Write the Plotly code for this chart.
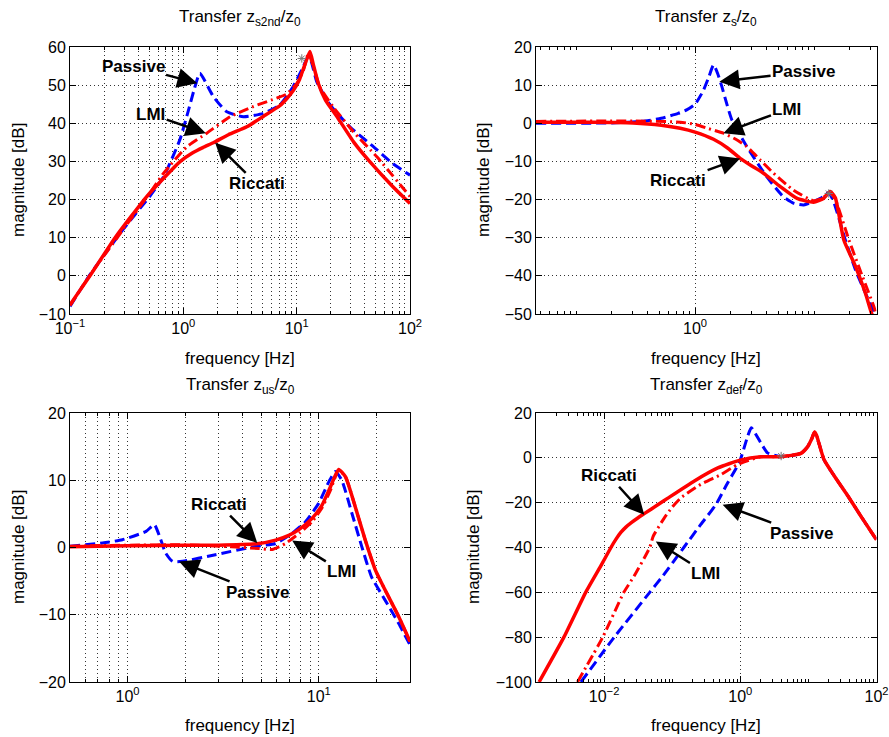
import numpy as np
import plotly.graph_objects as go

# ---------------- data (frequency in Hz, magnitude in dB) ----------------
# Transfer z_s2nd / z_0
s2nd_passive_f = [0.1, 0.15, 0.3, 0.51, 0.67, 0.93, 1.1, 1.25, 1.4, 1.84, 2.42, 3.39, 5.08, 7.1, 9.3, 11.5, 12.6, 13.5, 15, 19.5, 29.6, 47, 70, 100]
s2nd_passive_db = [-8, 0.3, 12.5, 21, 26, 35.6, 43, 49, 53.1, 47, 43, 41.7, 42.6, 44.8, 49.6, 55, 57.5, 56, 51, 45, 39, 34, 29.5, 26.4]
s2nd_lmi_f = [0.1, 0.15, 0.3, 0.5, 0.67, 1.07, 1.61, 2.58, 4.15, 6.67, 8.2, 10, 11.5, 12.7, 14, 16, 21, 31.6, 51, 100]
s2nd_lmi_db = [-7.8, 0.2, 12.5, 21.5, 26.9, 33.8, 37.4, 41.7, 44.4, 46.6, 47.7, 50.4, 54, 58.3, 55, 49.5, 44.3, 37.8, 31.2, 20.8]
s2nd_riccati_f = [0.1, 0.15, 0.25, 0.475, 0.7, 0.93, 1.2, 1.5, 1.84, 2.5, 3.63, 5.08, 7.1, 8.2, 9.3, 10.6, 12, 13.1, 14, 15.5, 18, 22.4, 32, 44, 70, 100]
s2nd_riccati_db = [-7.6, 0, 10, 20.8, 26.2, 29.9, 32.2, 33.7, 34.9, 37, 39.1, 41.8, 44.6, 46.5, 48.5, 51.5, 56, 58.8, 55.5, 50.5, 46, 42, 35, 30, 23.5, 19]

# Transfer z_s / z_0
s_passive_f = [0.046, 0.2, 0.38, 0.52, 0.72, 0.85, 1.0, 1.17, 1.3, 1.43, 1.55, 1.68, 1.85, 2.04, 2.72, 4.0, 5.5, 6.8, 8.2, 11.3, 13.3, 14.6, 18.3, 22.3, 27, 31.8, 34]
s_passive_db = [0, 0.1, 0.6, 1.3, 2.6, 3.5, 5, 8.5, 12, 15.3, 13, 9.6, 5, 0.86, -6.1, -14, -19.2, -21, -21.4, -19.7, -18.2, -20.5, -30.5, -38.4, -44.5, -49.3, -51]
s_lmi_f = [0.046, 0.3, 0.75, 1.0, 1.3, 1.73, 2.2, 2.72, 3.5, 4.57, 6.7, 9.9, 12, 13.5, 15.1, 19.6, 25.4, 31.8, 34]
s_lmi_db = [0.5, 0.6, 0.3, -0.3, -1.4, -2.6, -4.2, -6.1, -9.5, -13.1, -17.5, -20.3, -19.5, -18, -20, -30.5, -40, -48, -51]
s_riccati_f = [0.046, 0.1, 0.2, 0.3, 0.52, 0.75, 1.0, 1.43, 1.9, 2.39, 3.0, 3.76, 5.2, 7.2, 9.9, 12, 13.7, 15.1, 17.8, 22.3, 27, 30.6, 34]
s_riccati_db = [0.3, 0.3, 0.2, 0.1, -0.5, -1.3, -2.3, -4.2, -6.6, -9.2, -11.2, -13.1, -16.6, -19.7, -20.7, -19.7, -17.9, -19.5, -30.6, -37.5, -44.5, -50, -53]

# Transfer z_us / z_0
us_passive_f = [0.5, 0.74, 0.94, 1.25, 1.38, 1.49, 1.58, 1.72, 1.94, 2.88, 4.67, 5.95, 7.25, 8.5, 10, 11.3, 12.2, 13.2, 14.9, 16.8, 18.9, 22.3, 26.2, 30]
us_passive_db = [0.2, 0.67, 1.16, 2.4, 3.4, 1.2, -0.8, -2.06, -2.06, -1.07, 0.16, 0.6, 2.1, 3.8, 6.6, 9.8, 11.3, 10, 5.1, 0.1, -4.4, -7.9, -11.3, -14.5]
us_lmi_f = [0.5, 1, 2, 3.5, 4.86, 5.7, 6.7, 7.9, 9.2, 10.4, 11.5, 12.7, 13.8, 15.5, 17.5, 19.8, 22.3, 26.2, 30]
us_lmi_db = [0.2, 0.35, 0.4, 0.1, -0.15, -0.3, 0.6, 2.1, 3.8, 5.9, 8.5, 11.5, 10.5, 6.1, 1.1, -3.4, -6.4, -10.3, -14.0]
us_riccati_f = [0.5, 1, 2, 3, 4.86, 5.95, 6.97, 7.9, 9.2, 10.4, 11.5, 12.7, 13.8, 15.5, 17.5, 19.8, 22.3, 26.2, 30]
us_riccati_db = [0.1, 0.25, 0.35, 0.35, 0.6, 1.1, 1.8, 2.7, 4.3, 6.3, 9.0, 11.6, 10.5, 6.1, 1.1, -3.4, -6.4, -10.3, -14.0]

# Transfer z_def / z_0
def_passive_f = [0.00457, 0.0141, 0.0468, 0.0723, 0.148, 0.263, 0.44, 0.653, 0.966, 1.285, 1.45, 2.0, 2.51, 3.98, 7.76, 9.77, 11.2, 12.1, 13.0, 14.5, 17.0, 24.0, 38.0, 58.9, 100]
def_passive_db = [-100, -80, -60, -52.8, -40, -29.7, -20.8, -11.1, -2.2, 9.7, 13.4, 6.7, 2.2, 0.6, 2.0, 5, 8.5, 11, 10, 5.8, -0.9, -8.1, -17, -26, -36.6]
def_lmi_f = [0.00407, 0.00955, 0.0195, 0.0275, 0.0468, 0.0525, 0.0759, 0.1, 0.135, 0.263, 0.525, 0.912, 2.0, 3.98, 7.76, 9.77, 11.2, 12.3, 13.2, 14.5, 17.0, 24.0, 38.0, 58.9, 100]
def_lmi_db = [-100, -80, -60, -52.8, -40, -35, -27, -22, -17.8, -11.8, -7.4, -3, 0.5, 0.5, 2.0, 5, 8.5, 11.5, 10, 5.8, -0.9, -8.1, -17, -26, -36.6]
def_riccati_f = [0.00111, 0.00257, 0.00537, 0.00891, 0.0126, 0.0148, 0.0176, 0.0209, 0.0251, 0.0316, 0.0389, 0.0631, 0.0851, 0.209, 0.468, 1.0, 2.0, 3.98, 7.76, 9.77, 11.2, 12.3, 13.2, 14.5, 17.0, 24.0, 38.0, 58.9, 100]
def_riccati_db = [-100, -80, -60, -48.3, -40, -36.5, -33.3, -30.9, -28.9, -26.7, -24.9, -20.7, -18.1, -10.4, -4.5, -1, 0.5, 0.5, 2.0, 5, 8.5, 11.5, 10, 5.8, -0.9, -8.1, -17, -26, -36.6]

# grey asterisk markers (f, dB)
star_s2nd = ([11.1], [57])
star_s = ([13.3], [-18.4])
star_def = ([3.98], [0.8])

# tick labels
s2nd_xticks = [0.1, 1, 10, 100]
s2nd_xticktext = ["10<sup>−1</sup>", "10<sup>0</sup>", "10<sup>1</sup>", "10<sup>2</sup>"]
s_xticks = [1]
s_xticktext = ["10<sup>0</sup>"]
us_xticks = [1, 10]
us_xticktext = ["10<sup>0</sup>", "10<sup>1</sup>"]
def_xticks = [0.01, 1, 100]
def_xticktext = ["10<sup>−2</sup>", "10<sup>0</sup>", "10<sup>2</sup>"]

titles = ["Transfer z<sub>s2nd</sub>/z<sub>0</sub>", "Transfer z<sub>s</sub>/z<sub>0</sub>",
          "Transfer z<sub>us</sub>/z<sub>0</sub>", "Transfer z<sub>def</sub>/z<sub>0</sub>"]

# arrow annotations: (subplot, text, tip_f, tip_db, text_f, text_db)
labels = [
    (1, "Passive", 1.33, 50.5, 0.36, 55.0),
    (1, "LMI", 1.58, 37.4, 0.515, 42.4),
    (1, "Riccati", 1.91, 34.9, 4.45, 24.1),
    (2, "Passive", 1.6, 10.9, 8.17, 13.5),
    (2, "LMI", 1.73, -2.6, 5.92, 3.67),
    (2, "Riccati", 2.39, -9.2, 0.72, -15.05),
    (3, "Riccati", 4.77, 0.67, 3.01, 6.36),
    (3, "Passive", 1.86, -2.07, 4.77, -6.68),
    (3, "LMI", 7.26, 1.05, 13.2, -3.55),
    (4, "Riccati", 0.0389, -25.4, 0.01186, -8.0),
    (4, "Passive", 0.55, -20.9, 7.8, -33.8),
    (4, "LMI", 0.0575, -37.3, 0.313, -51.4),
]

# ---------------- figure ----------------
W, H = 889, 737
FONT = "Liberation Sans, Arial, Helvetica, sans-serif"
BLUE = "#0000ff"
RED = "#ff0000"

def px(x):
    return x / W

def py(y):
    return 1 - y / H

fig = go.Figure()

panels = [
    (1, s2nd_passive_f, s2nd_passive_db, s2nd_lmi_f, s2nd_lmi_db, s2nd_riccati_f, s2nd_riccati_db),
    (2, s_passive_f, s_passive_db, s_lmi_f, s_lmi_db, s_riccati_f, s_riccati_db),
    (3, us_passive_f, us_passive_db, us_lmi_f, us_lmi_db, us_riccati_f, us_riccati_db),
    (4, def_passive_f, def_passive_db, def_lmi_f, def_lmi_db, def_riccati_f, def_riccati_db),
]

for k, pf, pd, lf, ld, rf, rd in panels:
    xa = "x" if k == 1 else f"x{k}"
    ya = "y" if k == 1 else f"y{k}"
    fig.add_trace(go.Scatter(x=pf, y=pd, mode="lines", xaxis=xa, yaxis=ya,
                             line=dict(color=BLUE, width=3, dash="10px,5px", shape="spline", smoothing=0.5),
                             showlegend=False, hoverinfo="skip"))
    fig.add_trace(go.Scatter(x=lf, y=ld, mode="lines", xaxis=xa, yaxis=ya,
                             line=dict(color=RED, width=3, dash="10px,4px,2px,4px", shape="spline", smoothing=0.5),
                             showlegend=False, hoverinfo="skip"))
    fig.add_trace(go.Scatter(x=rf, y=rd, mode="lines", xaxis=xa, yaxis=ya,
                             line=dict(color=RED, width=3.5, shape="spline", smoothing=0.5),
                             showlegend=False, hoverinfo="skip"))

for k, st in [(1, star_s2nd), (2, star_s), (4, star_def)]:
    xa = "x" if k == 1 else f"x{k}"
    ya = "y" if k == 1 else f"y{k}"
    fig.add_trace(go.Scatter(x=st[0], y=st[1], mode="markers", xaxis=xa, yaxis=ya,
                             marker=dict(symbol="asterisk-open", size=7, color="#777",
                                         line=dict(color="#777", width=1)),
                             showlegend=False, hoverinfo="skip"))

# axis domains
XL = [px(70), px(410)]
XR = [px(536), px(876.5)]
YT = [py(314), py(47)]
YB = [py(682), py(413)]

def minor_list(lo, hi):
    vals = []
    for d in range(lo, hi):
        for m in range(2, 10):
            vals.append(m * 10.0 ** d)
    return vals

GRID = dict(showgrid=True, gridcolor="#333", griddash="1px,3px", gridwidth=1)

def xaxis(domain, rng, tv, tt, minor_vals, anchor, minor_grid):
    d = dict(type="log", domain=domain, range=rng, tickmode="array", tickvals=tv, ticktext=tt,
             showline=True, linecolor="black", linewidth=1, mirror="ticks", ticks="inside",
             ticklen=6, tickcolor="black", zeroline=False, anchor=anchor, automargin=False,
             tickfont=dict(family=FONT, size=16, color="black"), fixedrange=True, **GRID)
    if minor_vals is not None:
        md = dict(tickvals=minor_vals, ticks="inside", ticklen=3, tickcolor="black")
        if minor_grid:
            md.update(showgrid=True, gridcolor="#333", griddash="1px,3px", gridwidth=1)
        else:
            md.update(showgrid=False)
        d["minor"] = md
    return d

def yaxis(domain, rng, dt, anchor):
    return dict(domain=domain, range=rng, dtick=dt, tick0=0, showline=True, linecolor="black",
                linewidth=1, mirror="ticks", ticks="inside", ticklen=6, tickcolor="black",
                zeroline=False, anchor=anchor, automargin=False,
                tickfont=dict(family=FONT, size=16, color="black"),
                fixedrange=True, **GRID)

fig.update_layout(
    xaxis=xaxis(XL, [-1, 2], s2nd_xticks, s2nd_xticktext, minor_list(-1, 2), "y", True),
    yaxis=yaxis(YT, [-10, 60], 10, "x"),
    xaxis2=xaxis(XR, [np.log10(0.046), np.log10(33.5)], s_xticks, s_xticktext,
                 [0.05, 0.06, 0.07, 0.08, 0.09, 0.1] + minor_list(-1, 1) + [10, 20, 30], "y2", False),
    yaxis2=yaxis(YT, [-50, 20], 10, "x2"),
    xaxis3=xaxis(XL, [np.log10(0.5), np.log10(30)], us_xticks, us_xticktext,
                 [0.6, 0.7, 0.8, 0.9] + minor_list(0, 1) + [20, 30], "y3", True),
    yaxis3=yaxis(YB, [-20, 20], 10, "x3"),
    xaxis4=xaxis(XR, [-3, 2], def_xticks, def_xticktext,
                 minor_list(-3, 2) + [0.001, 0.1, 10], "y4", False),
    yaxis4=yaxis(YB, [-100, 20], 20, "x4"),
)

annotations = []
# titles
title_pos = [(240, 18), (706, 18), (240, 386), (706, 386)]
for t, (cx, cy) in zip(titles, title_pos):
    annotations.append(dict(text=t, x=px(cx), y=py(cy), xref="paper", yref="paper",
                            showarrow=False, xanchor="center", yanchor="middle",
                            font=dict(family=FONT, size=17, color="black")))
# axis labels
for cx, cy in [(240, 358), (706, 358), (240, 725), (706, 725)]:
    annotations.append(dict(text="frequency [Hz]", x=px(cx), y=py(cy), xref="paper", yref="paper",
                            showarrow=False, xanchor="center", yanchor="middle",
                            font=dict(family=FONT, size=17, color="black")))
for cx, cy in [(18, 180), (483, 180), (18, 547), (473, 547)]:
    annotations.append(dict(text="magnitude [dB]", x=px(cx), y=py(cy), xref="paper", yref="paper",
                            showarrow=False, xanchor="center", yanchor="middle", textangle=-90,
                            font=dict(family=FONT, size=17, color="black")))
# arrow labels
for k, txt, tf, tdb, lf_, ldb in labels:
    xa = "x" if k == 1 else f"x{k}"
    ya = "y" if k == 1 else f"y{k}"
    annotations.append(dict(text=f"<b>{txt}</b>", x=np.log10(tf), y=tdb, xref=xa, yref=ya,
                            ax=np.log10(lf_), ay=ldb, axref=xa, ayref=ya,
                            showarrow=True, arrowhead=2, arrowsize=1.6, arrowwidth=2.5,
                            arrowcolor="black", standoff=0, startstandoff=0,
                            font=dict(family=FONT, size=17, color="black")))

fig.update_layout(annotations=annotations, width=W, height=H,
                  margin=dict(l=0, r=0, t=0, b=0, autoexpand=False),
                  paper_bgcolor="white", plot_bgcolor="white", showlegend=False)

fig.write_html("out.html", config={"displayModeBar": False},
               post_script="document.body.style.margin='0';document.body.style.overflow='hidden';")
